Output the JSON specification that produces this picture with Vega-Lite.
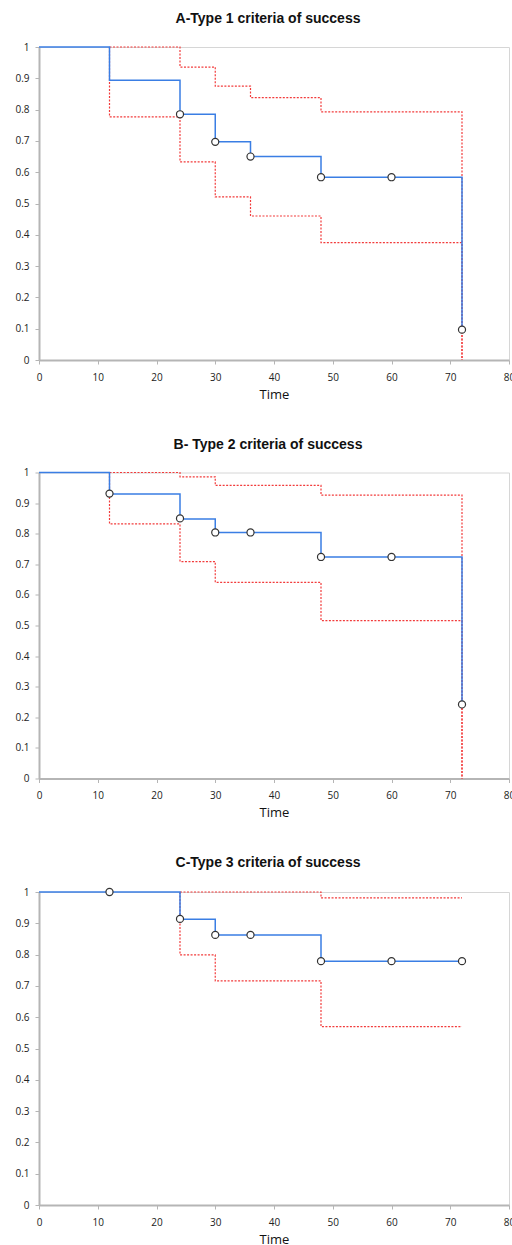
{
  "$schema": "https://vega.github.io/schema/vega-lite/v6.json",
  "background": "white",
  "padding": {"left": 14, "top": 11, "right": 0, "bottom": 0},
  "spacing": 34.5,
  "config": {
    "view": {"stroke": "#d6d6d6", "strokeWidth": 1},
    "axis": {
      "grid": false,
      "domainColor": "#b5b5b5",
      "domainWidth": 2,
      "tickColor": "#b5b5b5",
      "tickSize": 4,
      "tickWidth": 1,
      "labelFont": "Open Sans",
      "labelFontSize": 10,
      "labelColor": "#222222",
      "titleFont": "Open Sans",
      "titleFontSize": 13,
      "titleFontWeight": "normal",
      "titleColor": "#111111"
    },
    "axisX": {"labelPadding": 8, "titlePadding": 6},
    "axisY": {"labelPadding": 6},
    "title": {
      "font": "Liberation Sans",
      "fontSize": 14,
      "fontWeight": "bold",
      "color": "#111111",
      "anchor": "middle",
      "offset": 16,
      "dx": -6
    }
  },
  "datasets": {
    "lines": [
      {"panel": "A", "s": "km", "o": 1, "t": 0, "v": 1},
      {"panel": "A", "s": "km", "o": 2, "t": 12, "v": 0.894},
      {"panel": "A", "s": "km", "o": 3, "t": 24, "v": 0.785},
      {"panel": "A", "s": "km", "o": 4, "t": 30, "v": 0.697},
      {"panel": "A", "s": "km", "o": 5, "t": 36, "v": 0.65},
      {"panel": "A", "s": "km", "o": 6, "t": 48, "v": 0.584},
      {"panel": "A", "s": "km", "o": 7, "t": 72, "v": 0.097},
      {"panel": "A", "s": "upper", "o": 1, "t": 12, "v": 1},
      {"panel": "A", "s": "upper", "o": 2, "t": 24, "v": 0.936},
      {"panel": "A", "s": "upper", "o": 3, "t": 30, "v": 0.875},
      {"panel": "A", "s": "upper", "o": 4, "t": 36, "v": 0.838},
      {"panel": "A", "s": "upper", "o": 5, "t": 48, "v": 0.793},
      {"panel": "A", "s": "upper", "o": 6, "t": 72, "v": 0},
      {"panel": "A", "s": "lower", "o": 1, "t": 12, "v": 1},
      {"panel": "A", "s": "lower", "o": 2, "t": 12, "v": 0.777},
      {"panel": "A", "s": "lower", "o": 3, "t": 24, "v": 0.633},
      {"panel": "A", "s": "lower", "o": 4, "t": 30, "v": 0.521},
      {"panel": "A", "s": "lower", "o": 5, "t": 36, "v": 0.46},
      {"panel": "A", "s": "lower", "o": 6, "t": 48, "v": 0.375},
      {"panel": "A", "s": "lower", "o": 7, "t": 72, "v": 0},
      {"panel": "B", "s": "km", "o": 1, "t": 0, "v": 1},
      {"panel": "B", "s": "km", "o": 2, "t": 12, "v": 0.93},
      {"panel": "B", "s": "km", "o": 3, "t": 24, "v": 0.848},
      {"panel": "B", "s": "km", "o": 4, "t": 30, "v": 0.804},
      {"panel": "B", "s": "km", "o": 5, "t": 48, "v": 0.724},
      {"panel": "B", "s": "km", "o": 6, "t": 72, "v": 0.242},
      {"panel": "B", "s": "upper", "o": 1, "t": 12, "v": 1},
      {"panel": "B", "s": "upper", "o": 2, "t": 24, "v": 0.986},
      {"panel": "B", "s": "upper", "o": 3, "t": 30, "v": 0.958},
      {"panel": "B", "s": "upper", "o": 4, "t": 48, "v": 0.926},
      {"panel": "B", "s": "upper", "o": 5, "t": 72, "v": 0},
      {"panel": "B", "s": "lower", "o": 1, "t": 12, "v": 1},
      {"panel": "B", "s": "lower", "o": 2, "t": 12, "v": 0.832},
      {"panel": "B", "s": "lower", "o": 3, "t": 24, "v": 0.709},
      {"panel": "B", "s": "lower", "o": 4, "t": 30, "v": 0.641},
      {"panel": "B", "s": "lower", "o": 5, "t": 48, "v": 0.516},
      {"panel": "B", "s": "lower", "o": 6, "t": 72, "v": 0},
      {"panel": "C", "s": "km", "o": 1, "t": 0, "v": 1},
      {"panel": "C", "s": "km", "o": 2, "t": 24, "v": 0.913},
      {"panel": "C", "s": "km", "o": 3, "t": 30, "v": 0.863},
      {"panel": "C", "s": "km", "o": 4, "t": 48, "v": 0.779},
      {"panel": "C", "s": "km", "o": 5, "t": 72, "v": 0.779},
      {"panel": "C", "s": "upper", "o": 1, "t": 24, "v": 1},
      {"panel": "C", "s": "upper", "o": 2, "t": 48, "v": 0.981},
      {"panel": "C", "s": "upper", "o": 3, "t": 72, "v": 0.981},
      {"panel": "C", "s": "lower", "o": 1, "t": 24, "v": 1},
      {"panel": "C", "s": "lower", "o": 2, "t": 24, "v": 0.799},
      {"panel": "C", "s": "lower", "o": 3, "t": 30, "v": 0.716},
      {"panel": "C", "s": "lower", "o": 4, "t": 48, "v": 0.57},
      {"panel": "C", "s": "lower", "o": 5, "t": 72, "v": 0.57}
    ],
    "pts": [
      {"panel": "A", "t": 24, "v": 0.785},
      {"panel": "A", "t": 30, "v": 0.697},
      {"panel": "A", "t": 36, "v": 0.65},
      {"panel": "A", "t": 48, "v": 0.584},
      {"panel": "A", "t": 60, "v": 0.584},
      {"panel": "A", "t": 72, "v": 0.097},
      {"panel": "B", "t": 12, "v": 0.931},
      {"panel": "B", "t": 24, "v": 0.85},
      {"panel": "B", "t": 30, "v": 0.804},
      {"panel": "B", "t": 36, "v": 0.804},
      {"panel": "B", "t": 48, "v": 0.724},
      {"panel": "B", "t": 60, "v": 0.724},
      {"panel": "B", "t": 72, "v": 0.242},
      {"panel": "C", "t": 12, "v": 1},
      {"panel": "C", "t": 24, "v": 0.914},
      {"panel": "C", "t": 30, "v": 0.863},
      {"panel": "C", "t": 36, "v": 0.863},
      {"panel": "C", "t": 48, "v": 0.779},
      {"panel": "C", "t": 60, "v": 0.779},
      {"panel": "C", "t": 72, "v": 0.779}
    ]
  },
  "vconcat": [
    {
      "title": "A-Type 1 criteria of success",
      "width": 470,
      "height": 313,
      "encoding": {
        "x": {"field": "t", "type": "quantitative", "scale": {"domain": [0, 80], "nice": false}, "axis": {"values": [0, 10, 20, 30, 40, 50, 60, 70, 80], "title": "Time", "labelFlush": false}},
        "y": {"field": "v", "type": "quantitative", "scale": {"domain": [0, 1], "nice": false}, "axis": {"values": [0, 0.1, 0.2, 0.3, 0.4, 0.5, 0.6, 0.7, 0.8, 0.9, 1], "format": ".1~f", "title": null}}
      },
      "layer": [
        {"data": {"name": "lines"}, "transform": [{"filter": "datum.panel === 'A' && datum.s !== 'km'"}], "mark": {"type": "line", "interpolate": "step-after", "color": "#f23b3b", "strokeWidth": 1.2, "strokeDash": [2, 1.5]}, "encoding": {"detail": {"field": "s"}, "order": {"field": "o"}}},
        {"data": {"name": "lines"}, "transform": [{"filter": "datum.panel === 'A' && datum.s === 'km'"}], "mark": {"type": "line", "interpolate": "step-after", "color": "#3a7ee4", "strokeWidth": 1.5}, "encoding": {"order": {"field": "o"}}},
        {"data": {"name": "pts"}, "transform": [{"filter": "datum.panel === 'A'"}], "mark": {"type": "point", "shape": "circle", "filled": true, "fill": "white", "stroke": "#333333", "strokeWidth": 1.2, "size": 50, "opacity": 1}}
      ]
    },
    {
      "title": "B- Type 2 criteria of success",
      "width": 470,
      "height": 306,
      "encoding": {
        "x": {"field": "t", "type": "quantitative", "scale": {"domain": [0, 80], "nice": false}, "axis": {"values": [0, 10, 20, 30, 40, 50, 60, 70, 80], "title": "Time", "labelFlush": false}},
        "y": {"field": "v", "type": "quantitative", "scale": {"domain": [0, 1], "nice": false}, "axis": {"values": [0, 0.1, 0.2, 0.3, 0.4, 0.5, 0.6, 0.7, 0.8, 0.9, 1], "format": ".1~f", "title": null}}
      },
      "layer": [
        {"data": {"name": "lines"}, "transform": [{"filter": "datum.panel === 'B' && datum.s !== 'km'"}], "mark": {"type": "line", "interpolate": "step-after", "color": "#f23b3b", "strokeWidth": 1.2, "strokeDash": [2, 1.5]}, "encoding": {"detail": {"field": "s"}, "order": {"field": "o"}}},
        {"data": {"name": "lines"}, "transform": [{"filter": "datum.panel === 'B' && datum.s === 'km'"}], "mark": {"type": "line", "interpolate": "step-after", "color": "#3a7ee4", "strokeWidth": 1.5}, "encoding": {"order": {"field": "o"}}},
        {"data": {"name": "pts"}, "transform": [{"filter": "datum.panel === 'B'"}], "mark": {"type": "point", "shape": "circle", "filled": true, "fill": "white", "stroke": "#333333", "strokeWidth": 1.2, "size": 50, "opacity": 1}}
      ]
    },
    {
      "title": "C-Type 3 criteria of success",
      "width": 470,
      "height": 313,
      "encoding": {
        "x": {"field": "t", "type": "quantitative", "scale": {"domain": [0, 80], "nice": false}, "axis": {"values": [0, 10, 20, 30, 40, 50, 60, 70, 80], "title": "Time", "labelFlush": false}},
        "y": {"field": "v", "type": "quantitative", "scale": {"domain": [0, 1], "nice": false}, "axis": {"values": [0, 0.1, 0.2, 0.3, 0.4, 0.5, 0.6, 0.7, 0.8, 0.9, 1], "format": ".1~f", "title": null}}
      },
      "layer": [
        {"data": {"name": "lines"}, "transform": [{"filter": "datum.panel === 'C' && datum.s !== 'km'"}], "mark": {"type": "line", "interpolate": "step-after", "color": "#f23b3b", "strokeWidth": 1.2, "strokeDash": [2, 1.5]}, "encoding": {"detail": {"field": "s"}, "order": {"field": "o"}}},
        {"data": {"name": "lines"}, "transform": [{"filter": "datum.panel === 'C' && datum.s === 'km'"}], "mark": {"type": "line", "interpolate": "step-after", "color": "#3a7ee4", "strokeWidth": 1.5}, "encoding": {"order": {"field": "o"}}},
        {"data": {"name": "pts"}, "transform": [{"filter": "datum.panel === 'C'"}], "mark": {"type": "point", "shape": "circle", "filled": true, "fill": "white", "stroke": "#333333", "strokeWidth": 1.2, "size": 50, "opacity": 1}}
      ]
    }
  ]
}
